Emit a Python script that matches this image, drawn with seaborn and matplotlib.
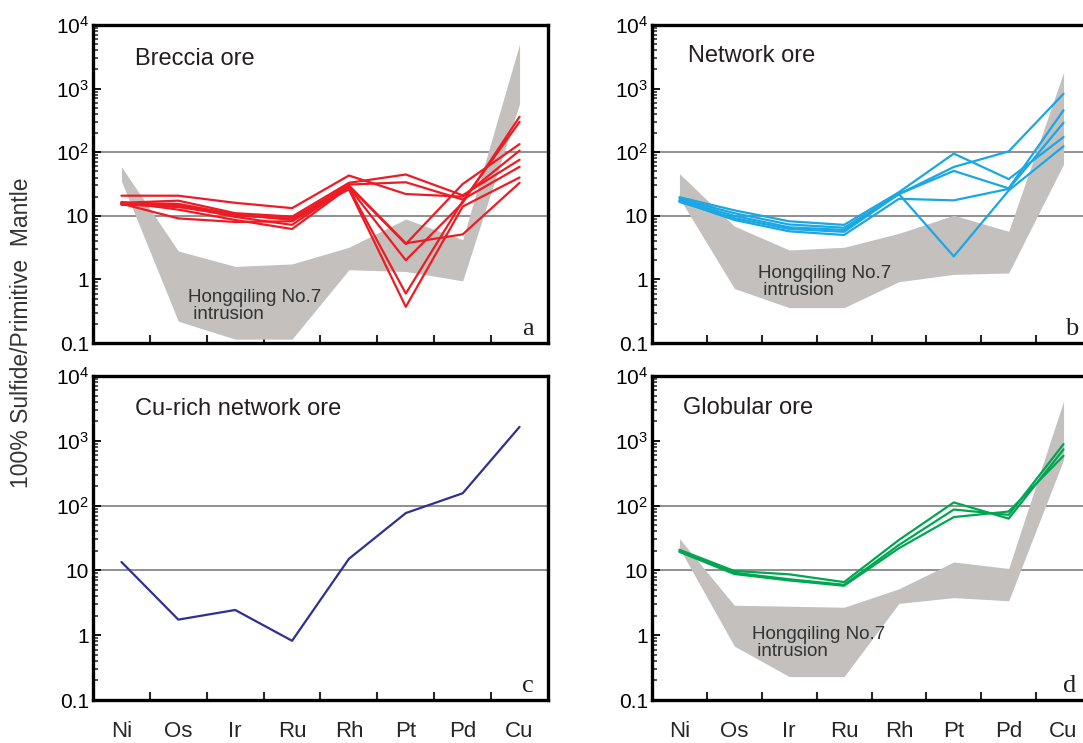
import numpy as np
import pandas as pd
import matplotlib
matplotlib.use("Agg")
import matplotlib.pyplot as plt
import seaborn as sns
from matplotlib.ticker import FixedLocator, LogLocator, NullFormatter

# ---------------------------------------------------------------- data
elements = ["Ni", "Os", "Ir", "Ru", "Rh", "Pt", "Pd", "Cu"]

y_tick_values = [0.1, 1, 10, 100, 1000, 10000]
y_tick_labels = ["0.1", "1", "10", "$10^2$", "$10^3$", "$10^4$"]
grid_levels = [10, 100]

# Hongqiling No.7 intrusion envelope (upper / lower bounds)
field_a_upper = [59, 2.8, 1.6, 1.75, 3.2, 8.9, 4.2, 5000]
field_a_lower = [35, 0.22, 0.115, 0.115, 1.42, 1.33, 0.95, 580]
field_b_upper = [46, 6.9, 2.9, 3.2, 5.3, 10.2, 5.7, 1800]
field_b_lower = [19, 0.72, 0.36, 0.36, 0.92, 1.2, 1.26, 65]
field_d_upper = [31, 2.9, 2.8, 2.7, 5.2, 13.5, 10.7, 4100]
field_d_lower = [22, 0.68, 0.23, 0.23, 3.1, 3.8, 3.4, 510]

# (a) breccia ore samples
breccia_1 = [20.7, 20.7, 16.0, 13.2, 43, 22, 20, 106]
breccia_2 = [16.0, 17.3, 11.0, 9.7, 33, 44.6, 21, 76]
breccia_3 = [16.0, 15.4, 10.5, 8.6, 31, 33.7, 18, 59]
breccia_4 = [15.0, 13.7, 10.2, 9.0, 30, 3.7, 5.1, 33]
breccia_5 = [15.5, 14.5, 9.6, 7.2, 29, 3.6, 31.6, 134]
breccia_6 = [16.5, 12.5, 8.6, 6.2, 28, 2.0, 16, 361]
breccia_7 = [15.5, 9.1, 8.0, 8.2, 27, 0.6, 17, 300]
breccia_8 = [15.0, 15.0, 10.0, 9.2, 26, 0.37, 14, 40]

# (b) network ore samples
network_1 = [19.6, 12.2, 8.2, 7.2, 23.5, 95, 37.8, 173]
network_2 = [18.5, 11.0, 7.3, 6.5, 22, 58.6, 103, 830]
network_3 = [17.5, 10.0, 6.6, 6.0, 22, 50.8, 27, 457]
network_4 = [17.0, 8.6, 5.7, 5.0, 18.5, 17.5, 26.5, 291]
network_5 = [16.5, 9.2, 6.2, 5.6, 22, 2.3, 25, 124]

# (c) Cu-rich network ore
cu_rich_1 = [13.5, 1.74, 2.45, 0.82, 15.1, 76.7, 155, 1640]

# (d) globular ore samples
globular_1 = [20.8, 9.8, 8.7, 6.6, 29.5, 112, 63, 738]
globular_2 = [20.0, 9.2, 7.3, 6.0, 24.7, 87, 72, 890]
globular_3 = [19.3, 8.8, 7.0, 5.8, 22, 66.5, 81, 587]

panel_titles = ["Breccia ore", "Network ore", "Cu-rich network ore", "Globular ore"]
panel_letters = ["a", "b", "c", "d"]
field_label = "Hongqiling No.7\n intrusion"
y_label = "100% Sulfide/Primitive  Mantle"


def long_form(samples):
    rows = []
    for s, vals in enumerate(samples):
        for i, (el, v) in enumerate(zip(elements, vals)):
            rows.append({"sample": s, "element": el, "pos": i, "value": v})
    return pd.DataFrame(rows)


panels = [
    dict(samples=[breccia_1, breccia_2, breccia_3, breccia_4,
                  breccia_5, breccia_6, breccia_7, breccia_8],
         color="#ed1c24", field=(field_a_lower, field_a_upper),
         field_xy=(188, 306), rect=(93, 25, 455, 318), xlabels=False),
    dict(samples=[network_1, network_2, network_3, network_4, network_5],
         color="#1aa7e3", field=(field_b_lower, field_b_upper),
         field_xy=(758, 282), rect=(652, 25, 439, 318), xlabels=False),
    dict(samples=[cu_rich_1],
         color="#2e3192", field=None,
         field_xy=None, rect=(93, 376, 455, 324), xlabels=True),
    dict(samples=[globular_1, globular_2, globular_3],
         color="#00a651", field=(field_d_lower, field_d_upper),
         field_xy=(752, 643), rect=(652, 376, 439, 324), xlabels=True),
]

# ---------------------------------------------------------------- style
sns.set_style("ticks")
plt.rcParams["font.family"] = ["Liberation Sans", "DejaVu Sans"]
plt.rcParams["mathtext.fontset"] = "custom"
plt.rcParams["mathtext.rm"] = "Liberation Sans"
plt.rcParams["mathtext.it"] = "Liberation Sans:italic"

W, H = 1083, 743
fig = plt.figure(figsize=(W / 100, H / 100), dpi=100)

text_color = "#231f20"
field_color = "#c3c0bd"
grid_color = "#8f8f8f"

for idx, p in enumerate(panels):
    left, top, width, height = p["rect"]
    ax = fig.add_axes([left / W, 1 - (top + height) / H, width / W, height / H])
    ax.set_yscale("log")
    ax.set_ylim(0.1, 1e4)
    ax.set_xlim(-0.5, len(elements) - 0.5)

    pos = np.arange(len(elements))
    for g in grid_levels:
        ax.axhline(g, color=grid_color, lw=1.4, zorder=0.5)

    if p["field"] is not None:
        lo, hi = p["field"]
        ax.fill_between(pos, lo, hi, color=field_color, lw=0, zorder=1)
        fx, fy = p["field_xy"]
        ax.text((fx - left) / width, 1 - (fy - top) / height, field_label,
                transform=ax.transAxes, ha="left", va="center",
                fontsize=13.5, color="#333333", linespacing=1.0, zorder=2)

    df = long_form(p["samples"])
    sns.lineplot(data=df, x="pos", y="value", units="sample", estimator=None,
                 sort=False, color=p["color"], lw=1.6, legend=False, ax=ax,
                 zorder=3)

    # y axis
    ax.yaxis.set_major_locator(FixedLocator(y_tick_values))
    ax.set_yticklabels(y_tick_labels)
    ax.yaxis.set_minor_locator(LogLocator(base=10, subs=np.arange(2, 10)))
    ax.yaxis.set_minor_formatter(NullFormatter())
    ax.tick_params(axis="y", which="major", direction="in", length=6,
                   width=1.3, labelsize=15, pad=3, colors="black")
    ax.tick_params(axis="y", which="minor", direction="in", length=3.5,
                   width=1.1)

    # x axis: boundary ticks, element labels at the centres
    ax.set_xticks(pos[:-1] + 0.5)
    ax.set_xticklabels([])
    ax.set_xticks(pos, minor=True)
    if p["xlabels"]:
        ax.set_xticklabels(elements, minor=True)
    ax.tick_params(axis="x", which="major", direction="in", length=6,
                   width=1.5)
    ax.tick_params(axis="x", which="minor", length=0, labelsize=16, pad=15)

    ax.set_xlabel("")
    ax.set_ylabel("")
    for sp in ax.spines.values():
        sp.set_visible(True)
        sp.set_linewidth(2.4)
        sp.set_color("black")
        sp.set_zorder(5)

    title_x = {0: 135, 1: 688, 2: 135, 3: 683}[idx]
    title_y = {0: 59, 1: 56, 2: 409, 3: 408}[idx]
    ax.text((title_x - left) / width, 1 - (title_y - top) / height,
            panel_titles[idx], transform=ax.transAxes, ha="left",
            va="center", fontsize=17, color=text_color)

    letter_x = {0: 528, 1: 1072, 2: 528, 3: 1070}[idx]
    ax.text((letter_x - left) / width, 8 / height, panel_letters[idx],
            transform=ax.transAxes, ha="center", va="baseline",
            fontsize=19, family="Liberation Serif", color=text_color)

fig.text(22 / W, 1 - 333 / H, y_label, rotation=90, ha="center",
         va="center", fontsize=16.5, color="#333333")

fig.savefig("out.png", dpi=100)
